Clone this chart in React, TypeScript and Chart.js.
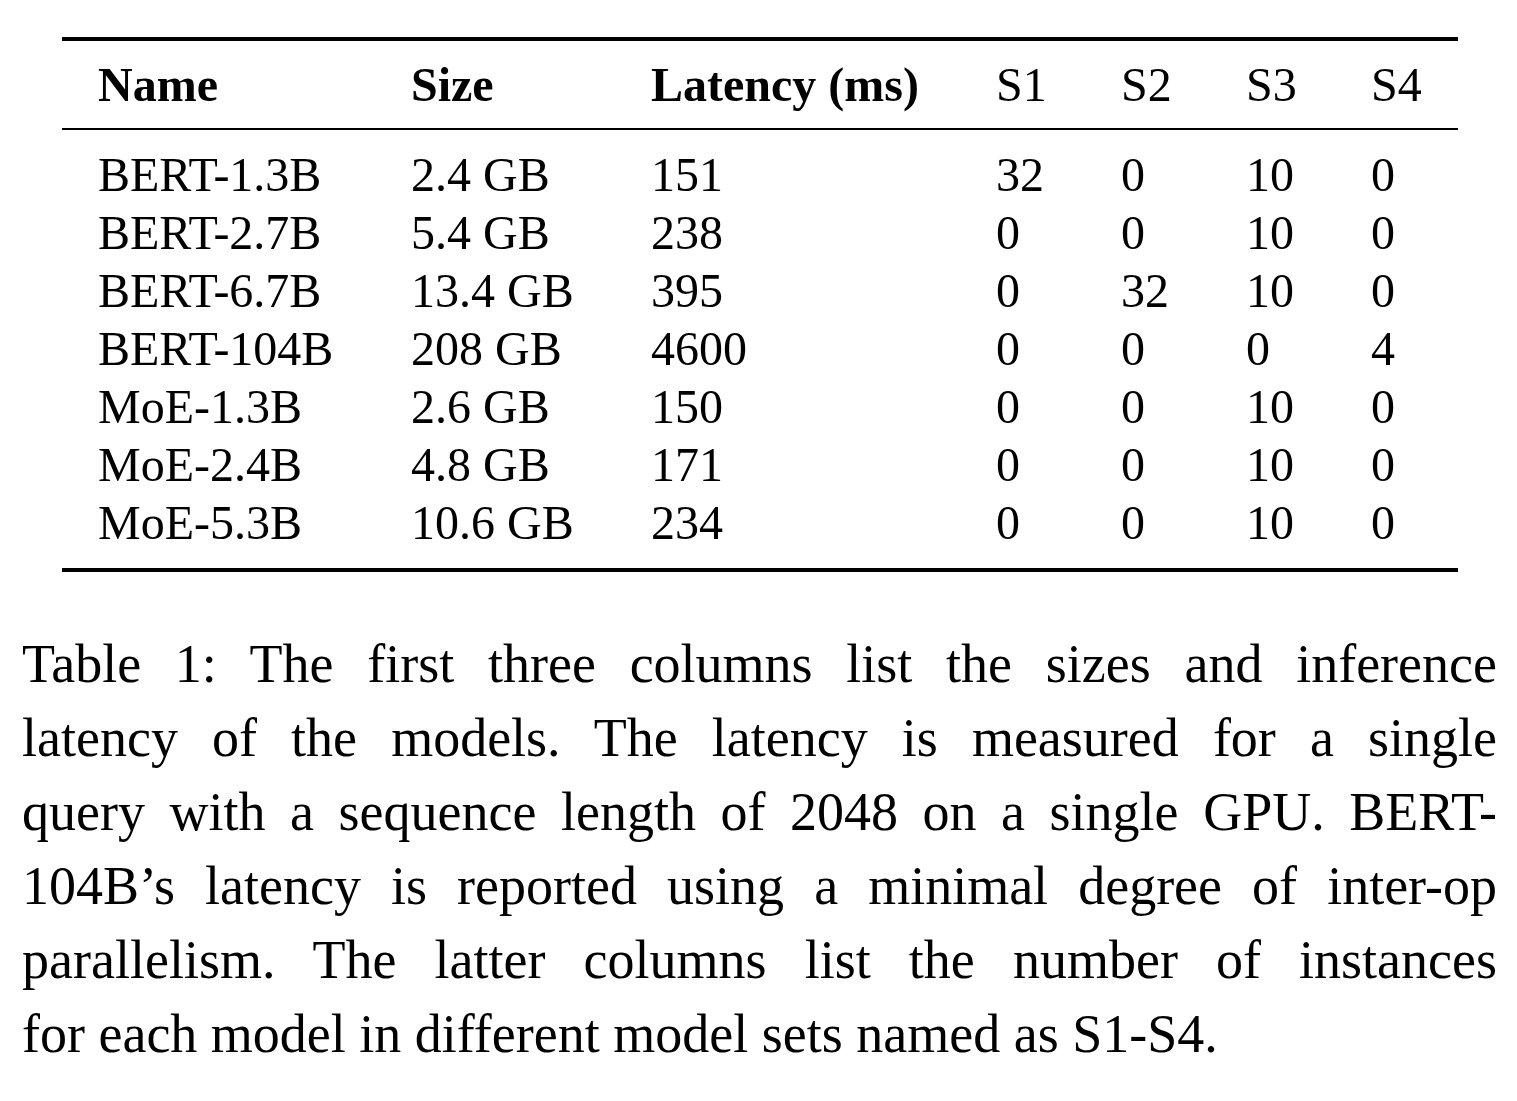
import { useEffect, useRef } from "react";
import { Chart, registerables } from "chart.js";

Chart.register(...registerables);

const headers = ["Name", "Size", "Latency (ms)", "S1", "S2", "S3", "S4"];
const boldHeaders = [true, true, true, false, false, false, false];
const names = ["BERT-1.3B", "BERT-2.7B", "BERT-6.7B", "BERT-104B", "MoE-1.3B", "MoE-2.4B", "MoE-5.3B"];
const sizes = ["2.4 GB", "5.4 GB", "13.4 GB", "208 GB", "2.6 GB", "4.8 GB", "10.6 GB"];
const latency = [151, 238, 395, 4600, 150, 171, 234];
const s1 = [32, 0, 0, 0, 0, 0, 0];
const s2 = [0, 0, 32, 0, 0, 0, 0];
const s3 = [10, 10, 10, 0, 10, 10, 10];
const s4 = [0, 0, 0, 4, 0, 0, 0];
const captionLines = [
  "Table 1: The first three columns list the sizes and inference",
  "latency of the models. The latency is measured for a single",
  "query with a sequence length of 2048 on a single GPU. BERT-",
  "104B\u2019s latency is reported using a minimal degree of inter-op",
  "parallelism. The latter columns list the number of instances",
  "for each model in different model sets named as S1-S4.",
];

const colX = [98, 411, 651, 996, 1121, 1246, 1371];
const FONT = "'Liberation Serif', 'Times New Roman', serif";

export default function App() {
  const canvasRef = useRef<HTMLCanvasElement>(null);
  const chartRef = useRef<Chart | null>(null);

  useEffect(() => {
    if (!canvasRef.current) return;
    chartRef.current?.destroy();
    const tablePlugin = {
      id: "table",
      afterDraw(chart: Chart) {
        const ctx = chart.ctx;
        ctx.save();
        ctx.fillStyle = "#000";
        ctx.fillRect(62, 37, 1396, 4);
        ctx.fillRect(62, 128, 1396, 2);
        ctx.fillRect(62, 568, 1396, 4);
        ctx.textBaseline = "alphabetic";
        ctx.textAlign = "left";
        headers.forEach((h, i) => {
          ctx.font = `${boldHeaders[i] ? "bold " : ""}48px ${FONT}`;
          ctx.fillText(h, colX[i], 101);
        });
        ctx.font = `48px ${FONT}`;
        names.forEach((n, r) => {
          const y = 191 + r * 58;
          const cells = [n, sizes[r], String(latency[r]), String(s1[r]), String(s2[r]), String(s3[r]), String(s4[r])];
          cells.forEach((c, i) => ctx.fillText(c, colX[i], y));
        });
        ctx.restore();
      },
    };
    chartRef.current = new Chart(canvasRef.current, {
      type: "scatter",
      data: { datasets: [] },
      options: {
        animation: false,
        responsive: false,
        devicePixelRatio: 1,
        plugins: { legend: { display: false }, tooltip: { enabled: false } },
        scales: { x: { display: false }, y: { display: false } },
      },
      plugins: [tablePlugin],
    });
    return () => chartRef.current?.destroy();
  }, []);

  return (
    <div style={{ position: "absolute", left: 0, top: 0, width: 1517, height: 1101, background: "#fff" }}>
      <canvas ref={canvasRef} width={1517} height={600} style={{ display: "block" }} />
      <div
        style={{
          position: "absolute",
          left: 22,
          top: 627,
          width: 1475,
          fontFamily: FONT,
          fontSize: 54,
          lineHeight: "74px",
          color: "#000",
          whiteSpace: "nowrap",
        }}
      >
        {captionLines.map((l, i) => (
          <div
            key={i}
            style={{
              textAlign: "justify",
              textAlignLast: i === captionLines.length - 1 ? "left" : "justify",
              whiteSpace: "normal",
            }}
          >
            {l}
          </div>
        ))}
      </div>
    </div>
  );
}
